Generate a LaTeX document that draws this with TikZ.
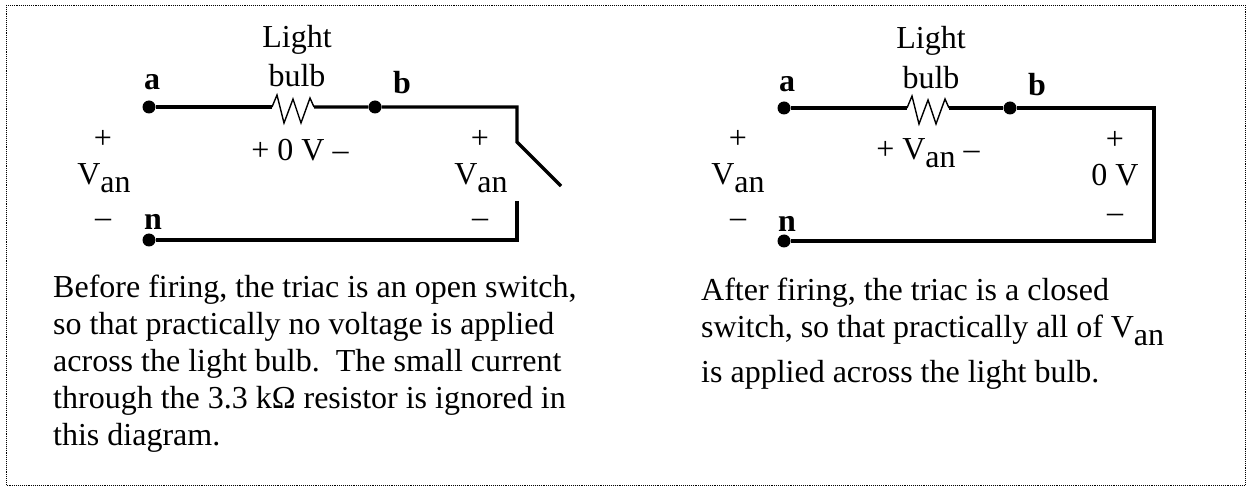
\documentclass[tikz,border=0pt]{standalone}
\usepackage{fontspec}
\setmainfont{Liberation Serif}
\tikzset{
    wire/.style={line width=3.4pt,line join=miter},
    zigzag/.style={line width=1.4pt,line join=miter},
    dotnode/.style={circle,fill=black,inner sep=0pt,minimum size=13pt},
    lab/.style={font=\fontsize{32}{37}\selectfont,inner sep=0pt},
    term/.style={font=\fontsize{32}{37}\bfseries\selectfont,inner sep=0pt},
    para/.style={font=\fontsize{32}{37}\selectfont,inner sep=0pt,align=left,anchor=base west}
}
\newcommand{\Vsub}{V\raisebox{-8pt}{an}}
\begin{document}
\begin{tikzpicture}[x=1pt,y=-1pt]
\useasboundingbox (0,0) rectangle (1250,486);
\draw[densely dotted,line width=0.9pt] (6,5) rectangle (1245,485);

% left circuit
\node[dotnode] (a1) at (149,107){};
\node[dotnode] (b1) at (375,107){};
\node[dotnode] (n1) at (149,240){};
\coordinate (c1) at (517,107);
\coordinate (s1) at (517,142);
\coordinate (e1) at (561,186);
\coordinate (t1) at (517,201);
\coordinate (d1) at (517,240);
\coordinate (r1) at (272,107);
\coordinate (q1) at (314,107);
\draw[wire] (a1)--(r1);
\draw[zigzag] (r1)--(277,95)--(284,123)--(293,99)--(301,123)--(310,98)--(q1);
\draw[wire] (q1)--(b1)--(c1)--(s1)--(e1);
\draw[wire] (t1)--(d1)--(n1);
\node[lab] (light1) at (297,40){Light};
\node[lab] (bulb1) at (297,76){bulb};
\node[term] (la1) at (152,82){a};
\node[term] (lb1) at (402,83){b};
\node[term] (ln1) at (153,222){n};
\node[lab] (drop1) at (300,150){+ 0 V –};
\node[lab] (p1) at (103,139){+};
\node[lab] (v1) at (104,178){\Vsub};
\node[lab] (m1) at (103,223){–};
\node[lab] (p2) at (480,139){+};
\node[lab] (v2) at (481,178){\Vsub};
\node[lab] (m2) at (480,223){–};
\node[para] (text1) at (53,445){Before firing, the triac is an open switch,\\so that practically no voltage is applied\\across the light bulb.\ \ The small current\\through the 3.3 kΩ resistor is ignored in\\this diagram.};

% right circuit
\node[dotnode] (a2) at (784,108){};
\node[dotnode] (b2) at (1010,108){};
\node[dotnode] (n2) at (784,241){};
\coordinate (c2) at (1154,108);
\coordinate (d2) at (1154,241);
\coordinate (r2) at (907,108);
\coordinate (q2) at (949,108);
\draw[wire] (a2)--(r2);
\draw[zigzag] (r2)--(912,96)--(919,124)--(928,100)--(936,124)--(945,99)--(q2);
\draw[wire] (q2)--(b2)--(c2)--(d2)--(n2);
\node[lab] (light2) at (931,41){Light};
\node[lab] (bulb2) at (931,78){bulb};
\node[term] (la2) at (787,84){a};
\node[term] (lb2) at (1037,85){b};
\node[term] (ln2) at (787,224){n};
\node[lab] (drop2) at (928,153){+ \Vsub{} –};
\node[lab] (p3) at (738,139){+};
\node[lab] (v3) at (738,178){\Vsub};
\node[lab] (m3) at (738,223){–};
\node[lab] (p4) at (1115,140){+};
\node[lab] (v4) at (1115,175){0 V};
\node[lab] (m4) at (1115,218){–};
\node[para] (text2) at (701,382){After firing, the triac is a closed\\switch, so that practically all of \Vsub\\[8pt]is applied across the light bulb.};
\end{tikzpicture}
\end{document}
